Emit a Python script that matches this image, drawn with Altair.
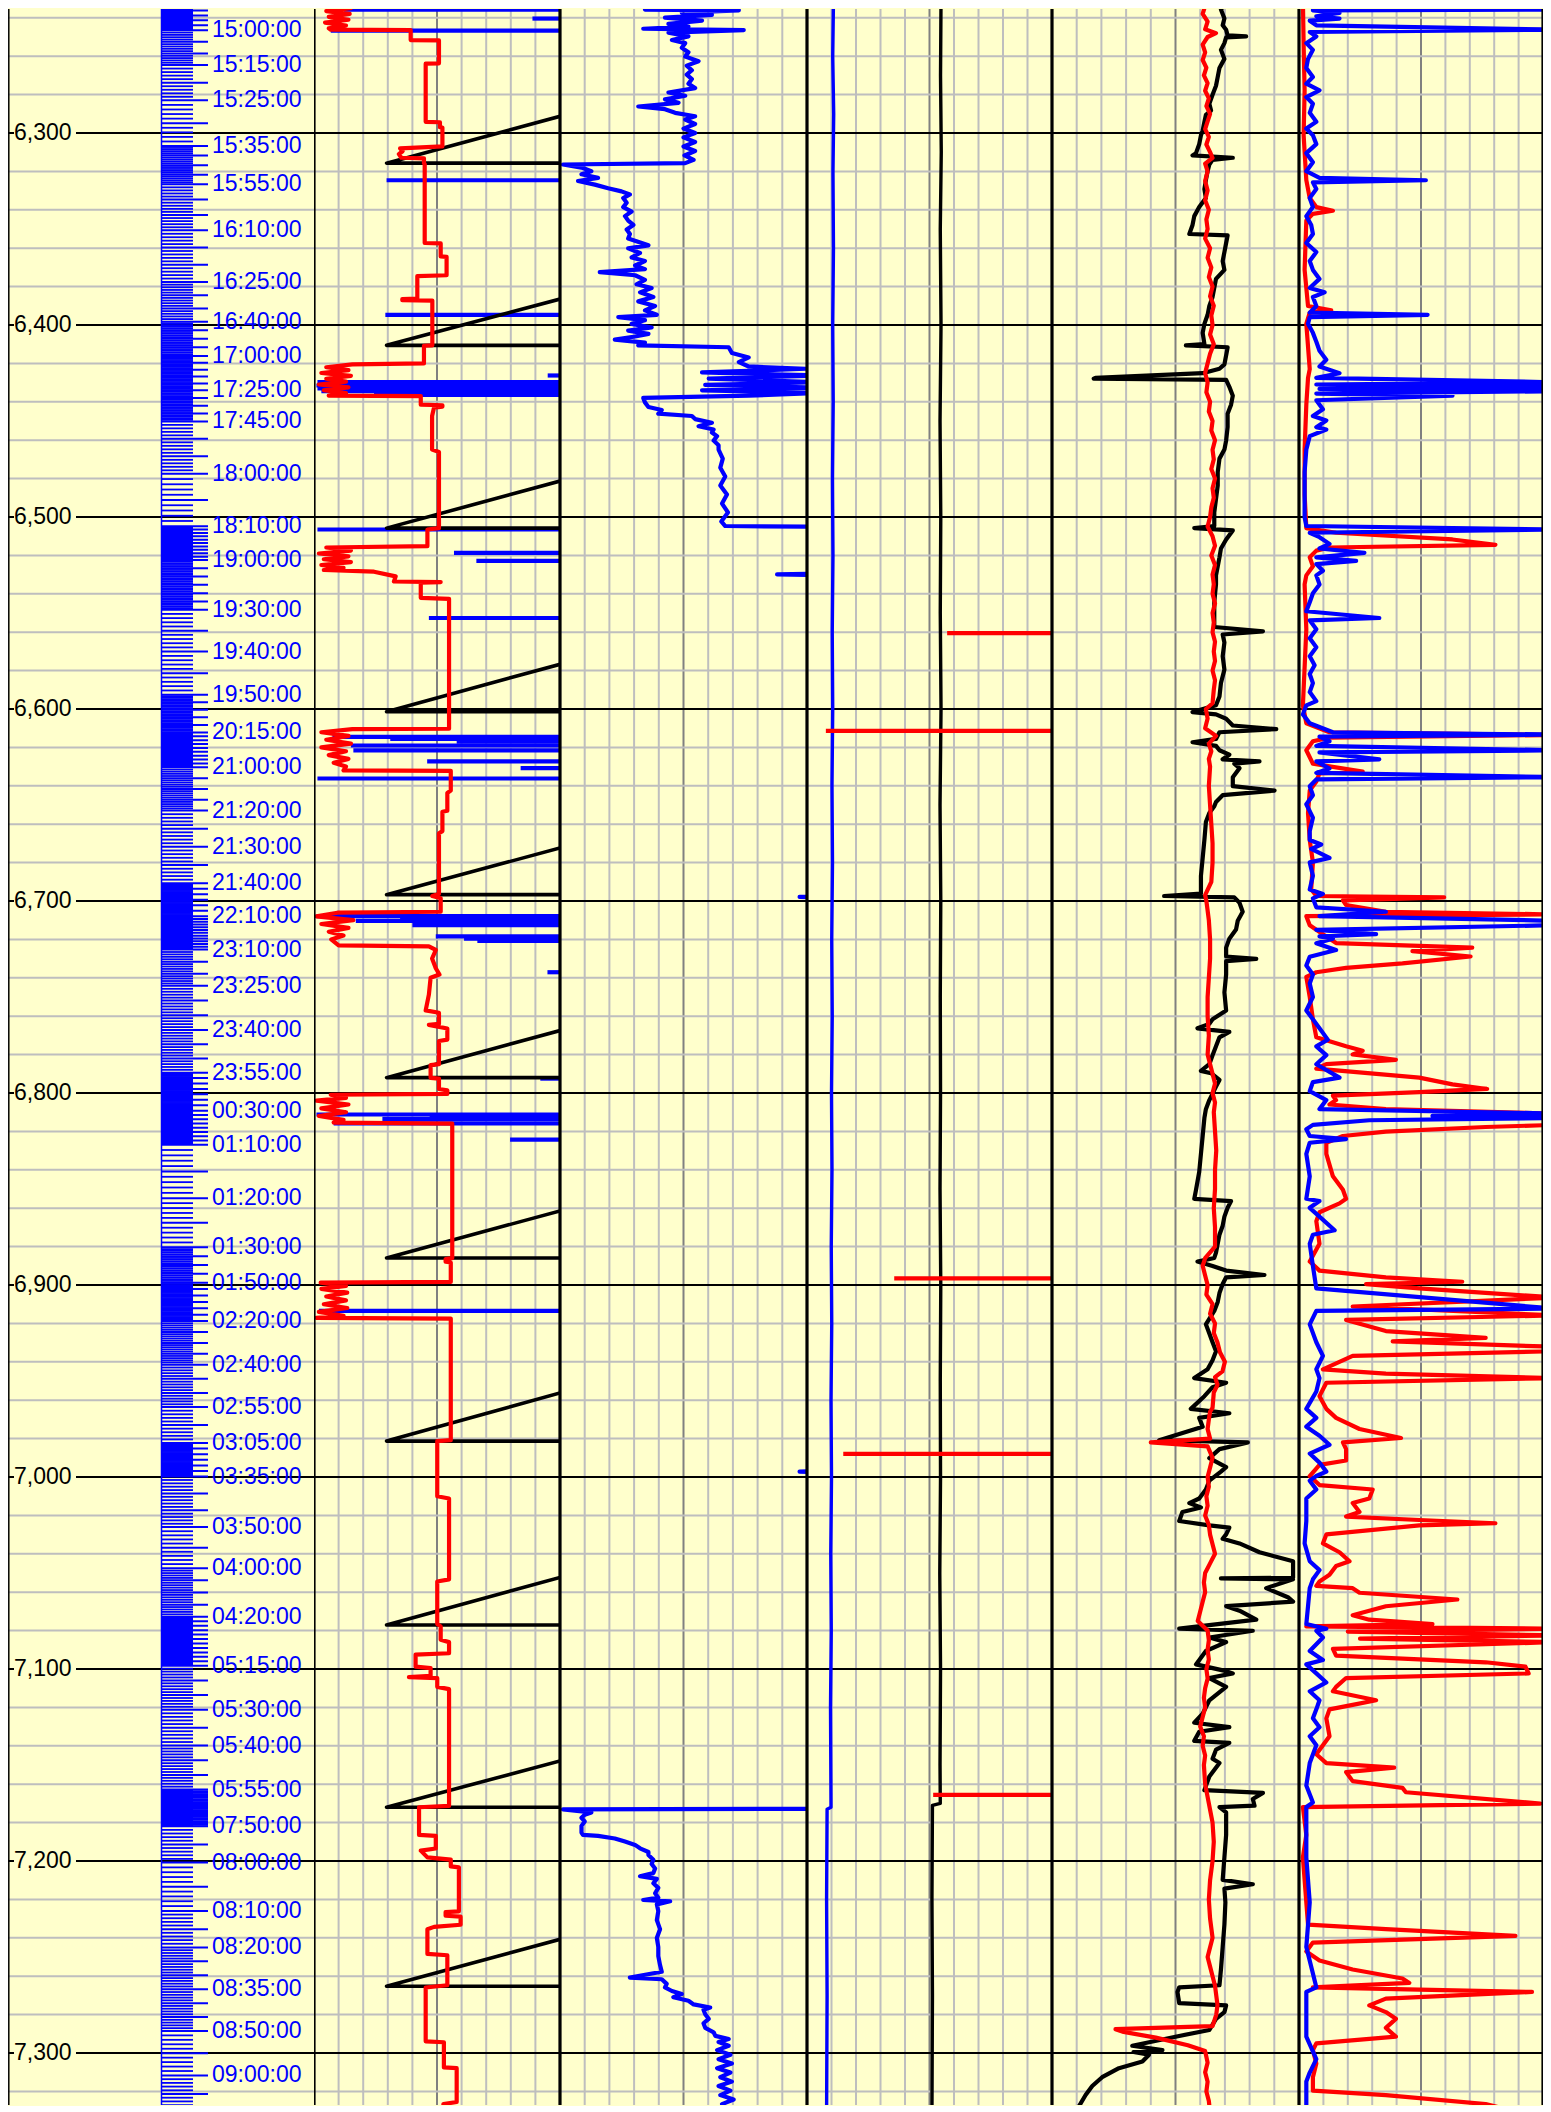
import math
import altair as alt
import pandas as pd

# ---------------- layout ----------------
D_TOP, D_BOT = 6235.42, 7327.08
PANEL_H = 2096
W_DEPTH = 306
W_TRACKS = [246, 247, 245, 247, 244]
YELLOW = "#FFFFCC"
GREY = "#BEBEBE"
DARKGREY = "#808080"
RED = "#FF0000"
BLUE = "#0000FF"
BLACK = "#000000"
FONT = "Liberation Sans, Arial, Helvetica, sans-serif"
LW = 4.2

# ---------------- depth / time index ----------------
DEPTH_LABELS = [6300, 6400, 6500, 6600, 6700, 6800, 6900, 7000, 7100, 7200, 7300]
GRID_MINOR = [d for d in range(6240, 7330, 20) if d % 100]

TIME_LABELS = ["15:00:00", "15:15:00", "15:25:00", "15:35:00", "15:55:00", "16:10:00", "16:25:00",
               "16:40:00", "17:00:00", "17:25:00", "17:45:00", "18:00:00", "18:10:00", "19:00:00",
               "19:30:00", "19:40:00", "19:50:00", "20:15:00", "21:00:00", "21:20:00", "21:30:00",
               "21:40:00", "22:10:00", "23:10:00", "23:25:00", "23:40:00", "23:55:00", "00:30:00",
               "01:10:00", "01:20:00", "01:30:00", "01:50:00", "02:20:00", "02:40:00", "02:55:00",
               "03:05:00", "03:35:00", "03:50:00", "04:00:00", "04:20:00", "05:15:00", "05:30:00",
               "05:40:00", "05:55:00", "07:50:00", "08:00:00", "08:10:00", "08:20:00", "08:35:00",
               "08:50:00", "09:00:00"]
TIME_DEPTHS = [6246.5, 6264.6, 6283.0, 6306.8, 6326.7, 6350.7, 6377.6,
               6398.3, 6416.1, 6434.0, 6450.2, 6477.5, 6504.8, 6522.4,
               6548.3, 6570.1, 6592.6, 6612.2, 6630.4, 6652.9, 6671.8,
               6690.8, 6707.9, 6725.3, 6744.2, 6767.2, 6789.4, 6809.2,
               6826.9, 6854.8, 6880.4, 6898.8, 6918.8, 6941.5, 6963.6,
               6982.3, 6999.8, 7026.1, 7047.5, 7072.8, 7098.3, 7121.2,
               7139.9, 7162.8, 7181.9, 7200.8, 7226.0, 7245.0, 7266.8,
               7288.5, 7311.7]
# unlabeled time/depth pairs at the top and bottom edges of the tick track
TIME_EDGE_TOP = ("14:30:00", 6231.0)
TIME_EDGE_BOTTOM = ("09:10:00", 7331.0)

# ---------------- track 1 ----------------
T1_RED = [(6231.0, 4.81), (6231.7, 4.81), (6232.0, 1.22), (6233.5, 0.41), (6235.0, 1.49), (6236.5, 0.5),
          (6238.0, 1.45), (6239.5, 0.6), (6241.0, 1.4), (6242.5, 0.45), (6244.0, 1.3), (6245.5, 0.6),
          (6246.2, 0.68), (6246.4, 3.93), (6251.6, 3.93), (6251.8, 5.08), (6263.7, 5.08), (6263.9, 4.54),
          (6294.2, 4.54), (6294.4, 5.12), (6297.0, 5.12), (6297.2, 5.22), (6307.0, 5.22), (6308.0, 3.50),
          (6309.5, 3.6), (6311.0, 3.45), (6312.9, 3.55), (6313.2, 4.47), (6315.7, 4.47), (6316.2, 4.5),
          (6357.3, 4.5), (6357.5, 5.15), (6364.3, 5.15), (6364.5, 5.39), (6374.1, 5.39), (6374.5, 4.2),
          (6386.3, 4.2), (6386.5, 3.59), (6387.1, 3.59), (6387.3, 4.81), (6410.6, 4.81), (6410.8, 4.47),
          (6420.0, 4.47), (6420.5, 1.56), (6422.0, 0.5), (6423.5, 1.4), (6425.0, 0.3), (6426.5, 1.5),
          (6428.0, 0.5), (6429.5, 1.3), (6431.0, 0.2), (6432.5, 1.4), (6434.0, 0.4), (6435.5, 1.3),
          (6436.8, 0.6), (6437.0, 4.34), (6441.5, 4.34), (6441.8, 5.22), (6442.5, 5.22), (6443.0, 4.88),
          (6447.4, 4.8), (6464.9, 4.8), (6466.1, 5.08), (6505.8, 5.08), (6506.5, 4.61), (6515.2, 4.61),
          (6515.9, 0.5), (6517.5, 1.5), (6519.0, 0.2), (6520.5, 1.4), (6522.0, 0.4), (6523.5, 1.5),
          (6525.0, 0.3), (6526.5, 1.2), (6527.6, 0.4), (6528.5, 2.44), (6530.9, 3.32), (6533.6, 3.25),
          (6533.9, 5.15), (6534.2, 4.34), (6542.1, 4.34), (6542.6, 5.49),
          (6610.3, 5.49), (6610.5, 1.56), (6612.1, 0.3), (6614.0, 1.4), (6616.0, 0.5), (6618.0, 1.5),
          (6620.0, 0.3), (6622.0, 1.3), (6624.0, 0.6), (6626.0, 1.4), (6628.0, 0.8), (6630.0, 1.3),
          (6632.0, 1.2), (6632.2, 5.56), (6642.5, 5.56), (6643.7, 5.42), (6653.0, 5.42), (6653.5, 5.22),
          (6663.6, 5.22), (6664.7, 5.08), (6696.3, 5.08), (6697.4, 4.81), (6698.6, 5.15), (6705.6, 5.15),
          (6706.1, 0.95), (6708.0, 0.1), (6710.0, 1.6), (6712.0, 0.3), (6714.0, 1.4), (6716.0, 0.6),
          (6718.0, 1.2), (6720.0, 0.7), (6723.1, 1.0), (6723.6, 4.67), (6725.5, 4.95), (6730.0, 4.8),
          (6735.0, 4.95), (6738.3, 5.1), (6740.0, 4.74), (6748.8, 4.67), (6757.0, 4.54), (6758.2, 5.08),
          (6764.0, 5.08), (6764.5, 4.67), (6766.4, 5.42), (6772.2, 5.42), (6772.9, 5.08), (6785.0, 5.08),
          (6785.5, 4.74), (6792.1, 4.74), (6792.5, 5.08), (6797.9, 5.08), (6798.6, 5.42), (6800.5, 5.42),
          (6800.9, 0.68), (6802.5, 1.3), (6804.0, 0.1), (6806.0, 1.4), (6808.0, 0.3), (6810.0, 1.3),
          (6812.0, 0.2), (6814.0, 1.2), (6815.4, 0.8), (6815.9, 5.62), (6886.0, 5.62), (6886.5, 5.35),
          (6887.9, 5.35), (6888.3, 5.56), (6898.4, 5.56), (6898.8, 0.27), (6900.5, 1.3), (6902.0, 0.3),
          (6904.0, 1.35), (6906.0, 0.5), (6908.0, 1.3), (6910.0, 0.4), (6912.0, 1.35), (6914.0, 0.2),
          (6916.0, 1.2), (6917.1, 0.1), (6917.5, 5.56),
          (6980.8, 5.56), (6981.3, 5.01), (7010.0, 5.01), (7011.2, 5.49), (7053.3, 5.49), (7054.4, 5.01),
          (7076.6, 5.01), (7077.8, 5.15), (7084.8, 5.15), (7086.0, 5.49), (7091.8, 5.49), (7092.5, 4.13),
          (7098.8, 4.13), (7099.5, 4.74), (7103.5, 4.74), (7104.2, 3.86), (7104.7, 5.01), (7109.3, 5.01),
          (7110.5, 5.49), (7171.3, 5.49), (7172.0, 4.27), (7186.4, 4.27), (7186.9, 4.95), (7193.5, 4.95),
          (7194.6, 4.34), (7198.1, 4.61), (7199.3, 5.56), (7202.8, 5.56), (7203.3, 5.89), (7226.2, 5.89),
          (7226.6, 5.35), (7228.5, 5.35), (7229.0, 5.96), (7233.2, 5.96), (7234.3, 4.88), (7235.5, 4.61),
          (7248.4, 4.61), (7249.1, 5.42), (7264.7, 5.42), (7265.9, 4.54), (7293.9, 4.54), (7294.4, 5.28),
          (7307.5, 5.28), (7307.9, 5.80), (7325.5, 5.80), (7326.6, 5.26), (7331.0, 5.26)]

T1_SAW_TOP = [6291.3, 6386.5, 6481.3, 6576.7, 6672.4, 6767.5, 6861.4, 6956.2, 7052.3, 7147.9, 7240.8]
T1_SAW_BOTTOM = [6315.7, 6410.6, 6505.8, 6601.4, 6696.7, 6792.0, 6885.9, 6981.3, 7077.1, 7172.0, 7265.2]
T1_SAW_LEFT = 2.95
T1_SAW_RIGHT = 10.0

T1_BLUE_SPIKES = [(6235.7, 1.22), (6240.4, 8.88), (6246.7, 0.68), (6324.6, 2.95), (6394.7, 2.90),
                  (6426.3, 9.5), (6429.8, 0.14), (6431.5, 0.1), (6433.0, 0.14), (6434.5, 0.3),
                  (6436.4, 2.44), (6506.5, 0.14), (6518.7, 5.69), (6522.9, 6.6), (6552.6, 4.67),
                  (6614.5, 0.75), (6615.6, 3.1), (6617.0, 5.8), (6619.0, 1.5), (6621.5, 1.6),
                  (6627.3, 4.6), (6630.8, 8.4), (6636.2, 0.14), (6707.9, 0.1), (6709.1, 3.5),
                  (6710.3, 1.7), (6712.6, 4.0), (6718.4, 4.95), (6719.6, 6.1), (6720.8, 6.64),
                  (6737.1, 9.49), (6792.5, 9.2), (6811.2, 0.1), (6812.4, 4.7), (6813.5, 2.78),
                  (6815.8, 0.8), (6824.3, 7.97), (6913.5, 0.2)]

# ---------------- track 2 ----------------
T2_BLUE_A = [(6231.0, 5.61), (6232.2, 6.29), (6233.3, 5.34), (6234.5, 6.02), (6235.7, 3.44), (6236.1, 7.24),
             (6237.3, 4.93), (6238.5, 6.15), (6239.9, 4.25), (6241.5, 5.75), (6243.2, 4.39), (6244.6, 5.20),
             (6245.7, 3.37), (6246.4, 7.44), (6247.8, 4.39), (6249.7, 5.20), (6251.6, 4.53), (6253.2, 5.07),
             (6255.6, 4.93), (6257.9, 5.20), (6260.2, 5.07), (6262.6, 5.61), (6264.9, 5.13), (6267.3, 5.34),
             (6269.6, 5.13), (6271.9, 5.34), (6274.3, 5.20), (6276.6, 5.47), (6278.9, 4.39), (6280.6, 5.07),
             (6282.5, 4.25), (6284.3, 4.80), (6286.2, 3.17), (6287.6, 4.25), (6289.5, 4.66), (6291.3, 5.47),
             (6293.0, 5.07), (6295.3, 5.47), (6297.7, 5.0), (6300.0, 5.47), (6302.3, 5.0), (6304.7, 5.47),
             (6307.0, 5.0), (6309.4, 5.47), (6311.7, 5.04), (6314.0, 5.41), (6315.7, 5.07), (6316.4, 0.12),
             (6318.0, 0.87), (6319.9, 1.27), (6321.5, 0.87), (6323.4, 1.54), (6325.0, 0.73), (6326.9, 1.41),
             (6328.8, 1.95), (6330.4, 2.49), (6332.0, 2.83), (6333.9, 2.56), (6336.3, 2.70), (6338.6, 2.56),
             (6340.9, 2.90), (6343.3, 2.63), (6345.6, 2.76), (6347.9, 2.97), (6350.3, 2.70), (6352.6, 2.83),
             (6355.0, 2.76), (6358.5, 3.58), (6360.1, 2.76), (6362.5, 3.24), (6364.8, 2.90), (6366.7, 3.44),
             (6369.0, 3.04), (6370.9, 3.44), (6372.5, 1.61), (6374.1, 3.04), (6376.5, 3.44), (6378.8, 3.10),
             (6380.7, 3.71), (6383.0, 3.24), (6385.4, 3.78), (6387.7, 3.17), (6390.1, 3.85), (6392.4, 3.44),
             (6394.7, 3.92), (6395.9, 2.36), (6397.5, 3.44), (6399.4, 2.90), (6401.3, 3.71), (6402.9, 2.76),
             (6404.6, 3.58), (6406.0, 3.04), (6407.6, 2.22), (6409.2, 3.44), (6410.6, 3.17), (6411.6, 6.83),
             (6414.6, 6.96), (6416.9, 7.64), (6419.3, 7.24), (6421.6, 7.64), (6422.8, 9.95), (6424.7, 5.75),
             (6426.3, 10.5), (6427.9, 6.02), (6429.8, 10.5), (6431.2, 5.88), (6432.6, 10.5), (6434.0, 5.75),
             (6435.4, 10.5), (6436.8, 7.64), (6438.0, 3.37), (6440.3, 3.44), (6442.7, 3.58), (6444.3, 4.12),
             (6446.2, 3.98), (6447.4, 5.34), (6449.0, 5.47), (6450.9, 6.15), (6452.7, 5.61), (6454.4, 6.22),
             (6456.0, 6.15), (6457.9, 6.36), (6460.2, 6.22), (6462.6, 6.42), (6464.9, 6.42), (6469.6, 6.59),
             (6474.3, 6.49), (6478.9, 6.69), (6483.6, 6.49), (6488.3, 6.76), (6493.0, 6.56), (6497.6, 6.80),
             (6502.3, 6.53), (6504.7, 6.69), (6505.1, 10.5)]
T2_BLUE_B = [(6529.5, 10.5), (6529.9, 8.79), (6530.3, 10.5)]
T2_BLUE_C = [(6697.6, 10.5), (6697.9, 9.7), (6698.2, 10.5)]
T2_BLUE_D = [(6996.9, 10.5), (6997.2, 9.7), (6997.5, 10.5)]
T2_BLUE_E = [(7172.8, 10.5), (7173.1, 0.12), (7174.7, 1.27), (7175.9, 1.0), (7177.5, 0.87), (7179.4, 1.0),
             (7181.7, 0.87), (7185.2, 0.87), (7186.4, 0.93), (7186.9, 1.54), (7188.3, 2.22), (7189.9, 2.63),
             (7191.6, 3.04), (7193.4, 3.24), (7195.3, 3.58), (7196.9, 3.58), (7199.3, 3.78), (7201.6, 3.71),
             (7203.9, 3.85), (7206.3, 3.78), (7207.9, 3.24), (7209.3, 3.92), (7211.6, 3.78), (7214.0, 3.98),
             (7216.8, 3.85), (7219.1, 3.98), (7220.3, 3.37), (7221.0, 4.46), (7222.6, 3.92), (7226.1, 3.98),
             (7230.8, 3.92), (7235.5, 4.05), (7240.1, 3.92), (7244.8, 3.98), (7249.5, 3.98), (7254.2, 4.05),
             (7257.7, 4.12), (7260.7, 2.83), (7261.6, 4.12), (7264.0, 4.32), (7265.8, 4.25), (7267.7, 4.53),
             (7269.3, 4.93), (7271.0, 4.59), (7272.8, 5.20), (7274.7, 5.41), (7276.3, 6.08), (7277.5, 5.81),
             (7279.8, 5.88), (7282.2, 6.02), (7284.5, 5.81), (7286.9, 5.88), (7289.2, 6.22), (7291.1, 6.29),
             (7292.7, 6.83), (7294.3, 6.42), (7296.2, 6.83), (7298.5, 6.36), (7300.9, 6.90), (7303.2, 6.42),
             (7305.5, 6.96), (7307.9, 6.36), (7310.2, 6.90), (7312.6, 6.49), (7314.9, 6.96), (7317.2, 6.42),
             (7319.6, 6.90), (7321.9, 6.49), (7324.2, 7.03), (7326.6, 6.56), (7330.8, 6.83)]

# ---------------- track 3 ----------------
T3_BLUE = [(6231, 1.08), (6260, 1.05), (6290, 1.09), (6320, 1.06), (6360, 1.08), (6400, 1.05), (6440, 1.07),
           (6480, 1.04), (6520, 1.06), (6560, 1.03), (6600, 1.05), (6640, 1.02), (6680, 1.04), (6720, 1.01),
           (6760, 1.03), (6800, 1.0), (6840, 1.02), (6880, 0.99), (6920, 1.01), (6960, 0.98), (7000, 1.0),
           (7040, 0.97), (7080, 0.99), (7120, 0.96), (7172, 0.98), (7173, 0.82), (7220, 0.80), (7270, 0.82),
           (7331, 0.80)]
T3_BLACK = [(6231, 5.47), (6270, 5.45), (6310, 5.48), (6350, 5.44), (6400, 5.47), (6450, 5.43), (6500, 5.46),
            (6550, 5.44), (6600, 5.47), (6650, 5.43), (6700, 5.46), (6750, 5.44), (6800, 5.45), (6850, 5.43),
            (6900, 5.46), (6950, 5.44), (7000, 5.45), (7050, 5.42), (7100, 5.45), (7150, 5.43), (7170, 5.44),
            (7171, 5.12), (7220, 5.10), (7270, 5.12), (7331, 5.10)]
T3_RED_SPIKES = [(6560.5, 5.72), (6611.4, 0.77), (6896.6, 3.56), (6988.0, 1.48), (7165.6, 5.15)]

# ---------------- track 4 ----------------
T4_BLACK = [(6231.0, 7.05), (6233.3, 6.98), (6235.7, 6.84), (6240.4, 6.98), (6243.9, 6.91), (6246.2, 7.05),
            (6249.2, 7.11), (6249.7, 7.86), (6250.2, 7.05), (6253.2, 6.98), (6256.7, 6.84), (6261.4, 6.98),
            (6266.1, 6.78), (6270.8, 6.71), (6275.4, 6.64), (6280.1, 6.50), (6284.8, 6.37), (6288.3, 6.44),
            (6290.6, 6.23), (6294.2, 6.17), (6298.8, 6.10), (6301.2, 6.03), (6305.8, 5.96), (6310.5, 5.83),
            (6311.7, 5.69), (6312.9, 7.32), (6314.0, 6.50), (6316.4, 6.37), (6319.9, 6.30), (6324.6, 6.23),
            (6329.2, 6.17), (6333.9, 6.23), (6338.6, 5.96), (6343.3, 5.76), (6347.9, 5.69), (6352.6, 5.56),
            (6353.3, 7.11), (6357.3, 7.05), (6362.0, 6.98), (6366.7, 6.91), (6371.3, 6.98), (6376.0, 6.64),
            (6380.7, 6.57), (6385.4, 6.50), (6390.1, 6.37), (6394.7, 6.30), (6399.4, 6.17), (6404.1, 6.10),
            (6409.9, 6.17), (6410.6, 5.42), (6411.6, 7.11), (6415.8, 7.05), (6420.5, 6.98), (6422.8, 6.78),
            (6425.1, 6.10), (6427.5, 1.76), (6427.9, 1.69), (6428.6, 7.05), (6432.2, 7.18), (6436.8, 7.32),
            (6441.5, 7.25), (6446.2, 7.11), (6453.2, 7.11), (6460.2, 7.05), (6464.9, 6.98), (6469.6, 6.78),
            (6476.6, 6.71), (6483.6, 6.71), (6490.6, 6.64), (6497.6, 6.57), (6504.7, 6.57), (6505.8, 5.76),
            (6507.0, 7.32), (6511.7, 7.05), (6516.4, 6.84), (6521.0, 6.78), (6525.7, 6.71), (6530.4, 6.64),
            (6535.1, 6.64), (6544.4, 6.57), (6553.8, 6.57), (6557.3, 6.57), (6559.6, 8.54), (6561.2, 6.91),
            (6565.4, 6.98), (6572.5, 6.91), (6579.5, 6.98), (6586.5, 6.84), (6593.5, 6.78), (6598.1, 6.64),
            (6601.6, 5.69), (6602.8, 6.64), (6605.1, 7.05), (6608.6, 7.32), (6610.5, 9.08), (6612.1, 6.78),
            (6615.6, 6.64), (6617.3, 5.69), (6619.2, 6.64), (6621.5, 6.78), (6623.8, 7.18), (6626.2, 6.91),
            (6627.3, 8.40), (6628.5, 7.38), (6630.8, 7.59), (6635.5, 7.32), (6640.2, 7.32), (6642.5, 9.01),
            (6644.9, 6.91), (6648.4, 6.64), (6650.7, 6.57), (6654.2, 6.37), (6658.9, 6.23), (6668.2, 6.17),
            (6677.6, 6.10), (6686.9, 6.03), (6696.2, 6.03), (6697.4, 4.54), (6698.1, 7.38), (6700.9, 7.59),
            (6705.6, 7.72), (6710.3, 7.52), (6714.9, 7.45), (6719.6, 7.18), (6724.3, 7.05), (6728.9, 7.05),
            (6730.1, 8.27), (6731.3, 7.05), (6738.3, 7.05), (6747.6, 6.98), (6757.0, 7.05), (6761.6, 6.50),
            (6764.0, 6.37), (6766.3, 5.89), (6768.2, 7.18), (6771.0, 6.78), (6775.7, 6.64), (6780.3, 6.50),
            (6785.0, 6.37), (6788.5, 6.03), (6789.7, 6.44), (6793.2, 6.78), (6796.7, 6.64), (6803.7, 6.37),
            (6808.4, 6.23), (6813.0, 6.17), (6822.4, 6.10), (6831.7, 6.03), (6841.1, 5.96), (6850.4, 5.83),
            (6855.1, 5.76), (6856.3, 7.25), (6859.8, 7.11), (6864.4, 6.98), (6869.1, 6.91), (6873.8, 6.78),
            (6878.5, 6.71), (6883.1, 6.64), (6885.9, 6.57), (6887.8, 5.89), (6890.1, 6.50), (6892.5, 7.05),
            (6894.8, 8.60), (6896.0, 7.05), (6899.5, 6.91), (6904.2, 6.78), (6908.8, 6.71), (6913.5, 6.57),
            (6920.5, 6.23), (6925.2, 6.37), (6929.8, 6.50), (6934.5, 6.64), (6939.2, 6.50), (6943.9, 6.30),
            (6948.5, 5.76), (6950.9, 7.05), (6953.2, 6.50), (6957.9, 6.17), (6964.5, 5.62), (6966.8, 7.18),
            (6969.2, 5.96), (6973.8, 6.10), (6980.8, 4.34), (6982.0, 7.93), (6985.5, 6.78), (6990.2, 6.37),
            (6994.9, 7.05), (6997.2, 6.84), (7001.9, 6.37), (7006.5, 6.23), (7011.2, 5.96), (7013.6, 5.56),
            (7015.9, 6.03), (7018.2, 5.28), (7022.9, 5.15), (7025.2, 6.37), (7026.4, 7.18), (7029.9, 7.05),
            (7032.2, 6.91), (7034.6, 7.59), (7039.2, 8.40), (7043.9, 9.76), (7052.5, 9.76), (7052.8, 6.84),
            (7053.3, 9.76), (7057.9, 8.67), (7062.6, 9.55), (7064.9, 9.76), (7067.3, 7.05), (7069.6, 7.59),
            (7074.3, 8.27), (7079.0, 5.15), (7080.1, 8.13), (7083.6, 6.37), (7086.0, 7.05), (7090.6, 6.23),
            (7097.6, 5.83), (7101.1, 7.05), (7102.3, 7.32), (7104.7, 6.37), (7109.3, 7.05), (7116.3, 6.37),
            (7123.3, 6.10), (7128.0, 5.76), (7130.3, 7.18), (7132.7, 5.96), (7137.4, 5.76), (7138.5, 7.18),
            (7142.0, 6.64), (7146.7, 6.50), (7149.0, 6.78), (7156.0, 6.37), (7163.1, 6.17), (7164.5, 8.54),
            (7167.7, 8.13), (7171.2, 8.20), (7171.9, 6.78), (7174.7, 7.05), (7186.4, 7.05), (7198.1, 6.98),
            (7209.8, 6.91), (7212.1, 8.13), (7214.4, 6.98), (7221.5, 7.02), (7233.1, 6.98), (7244.8, 6.91),
            (7256.5, 6.84), (7264.7, 6.78), (7265.8, 5.15), (7268.2, 5.08), (7274.0, 5.15), (7275.2, 7.05),
            (7278.7, 6.98), (7282.2, 6.64), (7288.0, 6.37), (7291.5, 5.0), (7296.2, 3.25), (7298.5, 4.47),
            (7299.5, 3.3), (7300.9, 3.93), (7304.4, 3.66), (7307.9, 2.71), (7312.6, 2.03), (7317.2, 1.63),
            (7321.9, 1.36), (7330.8, 0.95)]

T4_RED = [(6231, 6.03), (6235, 6.17), (6238, 6.1), (6242, 6.3), (6246, 6.2), (6248, 6.64), (6250, 6.3),
          (6254, 6.1), (6258, 6.2), (6262, 6.1), (6266, 6.25), (6270, 6.15), (6274, 6.3), (6278, 6.2),
          (6282, 6.35), (6286, 6.25), (6290, 6.4), (6294, 6.3), (6298, 6.2), (6302, 6.35), (6306, 6.25),
          (6310, 6.4), (6313, 6.5), (6316, 6.2), (6320, 6.3), (6325, 6.2), (6330, 6.3), (6335, 6.2),
          (6340, 6.35), (6345, 6.25), (6350, 6.3), (6355, 6.2), (6360, 6.4), (6365, 6.3), (6370, 6.45),
          (6375, 6.35), (6380, 6.5), (6385, 6.4), (6390, 6.55), (6395, 6.45), (6400, 6.5), (6405, 6.4),
          (6410, 6.55), (6415, 6.4), (6420, 6.3), (6425, 6.2), (6430, 6.3), (6435, 6.25), (6440, 6.4),
          (6445, 6.35), (6450, 6.5), (6455, 6.45), (6460, 6.6), (6465, 6.5), (6470, 6.55), (6475, 6.45),
          (6480, 6.6), (6485, 6.5), (6490, 6.55), (6495, 6.45), (6500, 6.4), (6505, 6.3), (6510, 6.5),
          (6515, 6.6), (6520, 6.45), (6525, 6.6), (6530, 6.5), (6535, 6.55), (6540, 6.5), (6545, 6.6),
          (6550, 6.5), (6555, 6.55), (6560, 6.5), (6565, 6.6), (6570, 6.55), (6575, 6.6), (6580, 6.5),
          (6585, 6.6), (6590, 6.55), (6597, 6.5), (6600, 6.23), (6605, 6.3), (6610, 6.2), (6614, 6.64),
          (6618, 6.35), (6622, 6.45), (6626, 6.35), (6630, 6.4), (6640, 6.35), (6650, 6.4), (6660, 6.45),
          (6670, 6.5), (6680, 6.5), (6690, 6.45), (6697, 6.2), (6700, 6.25), (6705, 6.3), (6710, 6.35),
          (6720, 6.4), (6730, 6.4), (6740, 6.35), (6750, 6.3), (6760, 6.3), (6770, 6.35), (6780, 6.3),
          (6790, 6.5), (6795, 6.6), (6800, 6.5), (6805, 6.6), (6810, 6.55), (6820, 6.6), (6830, 6.65),
          (6840, 6.6), (6850, 6.6), (6860, 6.55), (6870, 6.6), (6880, 6.6), (6886, 6.2), (6890, 6.1),
          (6895, 6.2), (6900, 6.3), (6905, 6.25), (6910, 6.5), (6915, 6.4), (6920, 6.6), (6925, 6.55),
          (6930, 6.7), (6935, 6.8), (6940, 7.0), (6945, 6.9), (6948, 6.6), (6952, 6.7), (6956, 6.55),
          (6964, 6.5), (6966, 6.4), (6970, 6.35), (6975, 6.3), (6980, 6.4), (6982, 4.0), (6984, 6.3),
          (6990, 6.5), (6995, 6.4), (7000, 6.3), (7005, 6.35), (7010, 6.25), (7015, 6.3), (7020, 6.2),
          (7025, 6.35), (7030, 6.4), (7035, 6.5), (7040, 6.6), (7045, 6.4), (7050, 6.2), (7055, 6.15),
          (7060, 6.2), (7065, 6.1), (7070, 6.0), (7075, 5.9), (7080, 6.3), (7085, 6.35), (7090, 6.3),
          (7095, 6.35), (7100, 6.25), (7105, 6.3), (7110, 6.2), (7115, 6.15), (7120, 6.2), (7125, 6.1),
          (7130, 6.0), (7135, 6.15), (7140, 6.1), (7145, 6.2), (7150, 6.15), (7160, 6.2), (7170, 6.35),
          (7180, 6.5), (7190, 6.55), (7200, 6.5), (7210, 6.4), (7220, 6.35), (7230, 6.4), (7240, 6.5),
          (7250, 6.3), (7255, 6.4), (7260, 6.5), (7265, 6.6), (7270, 6.65), (7275, 6.7), (7280, 6.65),
          (7286, 6.5), (7287.6, 2.57), (7289, 2.9), (7292, 4.2), (7296, 5.5), (7299, 6.2), (7305, 6.3),
          (7310, 6.2), (7315, 6.3), (7320, 6.25), (7325, 6.35), (7331, 6.4)]

# ---------------- track 5 ----------------
T5_BLUE = [(6231.0, 0.16), (6232.2, 0.84), (6233.3, 1.66), (6234.5, 0.71), (6235.7, 10.5), (6236.1, 0.57),
           (6237.5, 1.66), (6239.2, 0.71), (6240.4, 1.66), (6241.5, 0.44), (6243.9, 0.71), (6246.2, 10.5),
           (6247.4, 0.44), (6249.7, 0.71), (6253.2, 0.30), (6256.7, 0.57), (6261.4, 0.37), (6266.1, 0.30),
           (6270.8, 0.57), (6274.3, 0.30), (6277.8, 0.84), (6281.3, 0.30), (6284.8, 0.57), (6289.5, 0.44),
           (6294.2, 0.71), (6297.7, 0.30), (6301.2, 0.57), (6305.8, 0.71), (6310.5, 0.30), (6315.2, 0.57),
           (6319.9, 0.30), (6323.4, 0.84), (6324.6, 5.20), (6325.7, 0.57), (6329.2, 0.71), (6333.9, 0.44),
           (6338.6, 0.57), (6343.3, 0.30), (6347.9, 0.50), (6352.6, 0.57), (6357.3, 0.30), (6362.0, 0.71),
           (6366.7, 0.44), (6371.3, 0.57), (6376.0, 0.84), (6380.7, 0.44), (6383.0, 1.05), (6385.4, 0.57),
           (6390.1, 0.71), (6393.6, 0.44), (6394.7, 5.27), (6395.9, 0.44), (6399.4, 0.37), (6404.1, 0.57),
           (6408.7, 0.71), (6413.4, 0.84), (6418.1, 1.12), (6421.6, 0.84), (6425.1, 1.66), (6427.5, 0.71),
           (6429.8, 10.5), (6431.0, 0.71), (6432.2, 10.5), (6433.3, 0.84), (6434.5, 10.5), (6435.7, 0.71),
           (6436.8, 6.29), (6439.2, 0.71), (6443.9, 0.98), (6447.4, 0.57), (6449.7, 1.12), (6453.2, 0.71),
           (6454.4, 1.12), (6457.9, 0.44), (6464.9, 0.30), (6476.6, 0.23), (6488.3, 0.23), (6500.0, 0.23),
           (6504.7, 0.30), (6506.5, 10.5), (6508.2, 0.44), (6510.5, 0.84), (6514.0, 1.25), (6516.4, 0.84),
           (6518.7, 2.68), (6521.0, 0.71), (6522.9, 2.34), (6524.5, 0.71), (6528.0, 0.98), (6530.4, 0.71),
           (6535.1, 0.84), (6539.7, 0.57), (6544.4, 0.44), (6549.1, 0.30), (6552.6, 3.29), (6553.8, 0.44),
           (6558.5, 0.71), (6563.1, 0.44), (6567.8, 0.71), (6572.5, 0.44), (6577.2, 0.64), (6581.8, 0.44),
           (6586.5, 0.57), (6591.2, 0.44), (6595.9, 0.71), (6598.1, 0.30), (6602.8, 0.16), (6607.4, 0.44),
           (6612.1, 1.39), (6613.3, 10.5), (6614.4, 0.84), (6616.8, 1.25), (6619.2, 0.71), (6621.5, 10.5),
           (6622.6, 0.84), (6626.2, 3.29), (6627.3, 0.71), (6631.0, 1.25), (6633.3, 0.71), (6635.5, 10.5),
           (6636.7, 0.71), (6640.2, 0.44), (6644.9, 0.57), (6649.6, 0.30), (6656.6, 0.57), (6663.6, 0.44),
           (6668.2, 0.44), (6670.6, 0.91), (6672.9, 0.50), (6677.6, 1.25), (6679.9, 0.44), (6686.9, 0.57),
           (6694.0, 0.44), (6696.3, 0.98), (6698.6, 0.57), (6703.3, 0.71), (6705.6, 3.56), (6707.9, 0.84),
           (6710.3, 10.5), (6712.6, 10.5), (6715.0, 0.71), (6717.3, 3.16), (6718.4, 0.84), (6719.6, 1.39),
           (6722.0, 0.71), (6725.5, 1.52), (6729.0, 0.44), (6733.6, 0.30), (6738.3, 0.57), (6743.0, 0.44),
           (6750.0, 0.57), (6757.0, 0.30), (6761.6, 0.57), (6766.3, 0.84), (6772.2, 1.18), (6775.7, 0.71),
           (6780.3, 1.12), (6785.0, 0.71), (6792.0, 1.66), (6794.3, 0.57), (6799.0, 0.44), (6803.7, 1.12),
           (6808.4, 0.84), (6810.7, 10.5), (6811.9, 5.47), (6813.0, 10.5), (6814.2, 2.88), (6816.6, 0.57),
           (6818.9, 0.30), (6822.4, 0.44), (6824.0, 1.93), (6825.9, 0.44), (6831.7, 0.30), (6843.4, 0.44),
           (6855.1, 0.30), (6856.3, 0.84), (6859.8, 0.44), (6871.5, 1.46), (6873.8, 0.57), (6878.5, 0.44),
           (6890.1, 0.57), (6901.8, 0.71), (6912.3, 10.5), (6913.5, 0.71), (6920.5, 0.44), (6929.8, 0.71),
           (6936.9, 0.98), (6943.9, 0.71), (6948.5, 0.84), (6955.5, 0.71), (6964.5, 0.30), (6969.2, 0.71),
           (6973.8, 0.30), (6978.5, 0.84), (6983.2, 1.25), (6987.8, 0.44), (6992.5, 0.84), (6997.2, 1.12),
           (6999.5, 0.71), (7001.9, 0.44), (7006.5, 0.71), (7011.2, 0.30), (7022.9, 0.30), (7034.6, 0.23),
           (7043.9, 0.44), (7048.5, 0.84), (7053.3, 0.57), (7057.9, 0.44), (7067.3, 0.37), (7076.6, 0.30),
           (7079.0, 1.12), (7080.1, 0.71), (7083.6, 0.98), (7090.6, 0.44), (7095.3, 0.98), (7097.6, 0.30),
           (7102.3, 0.71), (7107.0, 1.12), (7111.6, 0.44), (7116.3, 0.84), (7121.0, 0.71), (7125.6, 0.57),
           (7130.3, 0.84), (7135.0, 0.44), (7139.7, 0.71), (7149.0, 0.44), (7160.7, 0.30), (7169.5, 0.57),
           (7171.9, 0.30), (7186.4, 0.30), (7198.1, 0.30), (7221.5, 0.44), (7244.8, 0.30), (7265.8, 0.71),
           (7268.2, 0.30), (7291.5, 0.30), (7303.2, 0.71), (7310.2, 0.44), (7314.9, 0.30), (7330.8, 0.30)]

T5_RED = [(6231.0, 0.16), (6254.4, 0.19), (6277.8, 0.23), (6301.2, 0.19), (6324.6, 0.30), (6333.9, 0.44),
          (6338.6, 0.71), (6340.5, 1.39), (6342.1, 0.57), (6345.6, 0.30), (6371.3, 0.23), (6390.1, 0.37),
          (6392.4, 1.32), (6393.6, 0.44), (6399.4, 0.30), (6423.0, 0.44), (6427.5, 0.37), (6441.5, 0.30),
          (6464.9, 0.23), (6488.3, 0.23), (6505.8, 0.30), (6508.2, 1.52), (6511.7, 6.29), (6514.5, 8.05),
          (6515.9, 1.25), (6517.5, 0.71), (6521.0, 0.44), (6525.7, 0.57), (6530.4, 0.30), (6535.1, 0.23),
          (6558.5, 0.30), (6598.1, 0.16), (6607.4, 0.30), (6612.1, 1.25), (6613.5, 10.5), (6614.9, 1.25),
          (6616.8, 0.57), (6621.5, 0.30), (6628.5, 0.57), (6632.6, 2.61), (6633.5, 0.84), (6637.8, 0.71),
          (6642.5, 0.44), (6654.2, 0.37), (6668.2, 0.44), (6679.9, 0.57), (6693.9, 0.50), (6697.4, 0.71),
          (6698.1, 5.95), (6699.7, 1.80), (6702.1, 1.93), (6705.6, 3.56), (6707.0, 10.5), (6707.9, 0.30),
          (6712.6, 0.44), (6717.3, 0.98), (6721.9, 1.52), (6724.3, 7.10), (6726.1, 4.65), (6728.9, 7.03),
          (6732.5, 4.24), (6734.8, 1.93), (6737.1, 0.71), (6739.5, 0.30), (6750.0, 0.44), (6761.6, 0.57),
          (6771.0, 0.71), (6775.7, 1.93), (6778.0, 2.61), (6779.9, 2.20), (6782.7, 3.97), (6785.0, 1.12),
          (6787.3, 0.71), (6792.0, 4.93), (6795.5, 6.29), (6797.9, 7.71), (6799.5, 4.93), (6801.4, 1.39),
          (6803.7, 1.52), (6806.0, 1.25), (6808.4, 3.56), (6810.7, 10.5), (6813.0, 10.5), (6816.6, 10.5),
          (6817.7, 7.65), (6820.1, 3.56), (6822.4, 1.80), (6825.9, 1.12), (6831.7, 1.12), (6843.4, 1.39),
          (6850.4, 1.80), (6855.1, 1.93), (6857.5, 1.66), (6862.1, 0.84), (6866.8, 0.71), (6878.5, 0.84),
          (6887.8, 0.44), (6892.5, 0.84), (6896.0, 3.56), (6898.3, 6.69), (6899.5, 2.75), (6901.8, 4.93),
          (6906.5, 10.5), (6911.2, 2.20), (6915.8, 10.5), (6918.2, 1.93), (6924.0, 3.56), (6927.5, 7.65),
          (6929.4, 3.84), (6932.2, 10.5), (6934.5, 10.5), (6936.9, 2.20), (6943.9, 0.98), (6946.2, 3.56),
          (6948.5, 10.5), (6950.9, 1.12), (6957.9, 0.84), (6964.5, 1.12), (6969.2, 1.52), (6975.0, 2.48),
          (6979.7, 4.18), (6982.0, 1.80), (6985.5, 1.93), (6991.4, 1.93), (6993.7, 0.84), (6999.5, 0.44),
          (7004.2, 0.84), (7006.5, 3.02), (7011.2, 2.88), (7013.5, 2.20), (7018.2, 2.48), (7020.6, 1.93),
          (7022.4, 4.93), (7024.1, 8.05), (7025.2, 4.93), (7029.9, 1.12), (7034.6, 0.98), (7039.2, 1.66),
          (7043.9, 2.07), (7046.3, 1.52), (7050.9, 1.25), (7054.4, 0.84), (7056.7, 0.71), (7057.9, 2.20),
          (7060.3, 2.48), (7063.8, 6.49), (7067.3, 3.56), (7072.0, 2.20), (7074.3, 2.88), (7076.6, 5.47),
          (7077.8, 0.30), (7079.0, 10.5), (7080.5, 2.0), (7082.5, 10.5), (7084.2, 2.5), (7086.0, 10.5),
          (7089.5, 1.39), (7093.0, 1.52), (7096.5, 7.65), (7098.8, 9.28), (7102.3, 9.41), (7104.7, 1.93),
          (7109.3, 1.52), (7111.6, 1.39), (7116.3, 3.16), (7118.7, 2.20), (7121.0, 1.25), (7125.7, 1.12),
          (7135.0, 1.25), (7144.4, 0.71), (7149.0, 1.12), (7151.4, 3.90), (7153.7, 1.93), (7158.4, 2.20),
          (7161.9, 4.24), (7164.2, 4.38), (7170.1, 9.89), (7171.9, 0.16), (7186.4, 0.30), (7198.1, 0.16),
          (7209.8, 0.23), (7221.5, 0.30), (7233.1, 0.37), (7235.5, 3.56), (7239.0, 8.87), (7242.5, 0.57),
          (7247.1, 0.30), (7251.8, 0.84), (7256.5, 2.20), (7261.2, 4.24), (7263.5, 4.52), (7265.8, 0.57),
          (7268.2, 9.55), (7271.7, 3.56), (7275.2, 2.88), (7278.7, 3.56), (7282.2, 3.97), (7286.9, 3.56),
          (7291.5, 3.97), (7295.0, 0.71), (7298.5, 0.57), (7305.5, 0.71), (7312.6, 0.57), (7319.6, 0.57),
          (7321.9, 3.56), (7326.6, 7.65), (7330.8, 9.0)]

# ---------------- helpers ----------------
YS = alt.Scale(domain=[D_TOP, D_BOT], reverse=True, nice=False, zero=False)
XS = alt.Scale(domain=[0, 10], nice=False, zero=False)


def Y(field="depth"):
    return alt.Y(f"{field}:Q", scale=YS, axis=None)


def X(field="v"):
    return alt.X(f"{field}:Q", scale=XS, axis=None)


ONE = pd.DataFrame({"k": [0]})


def curve(segs, color, width=LW):
    rows = []
    for s, seg in enumerate(segs):
        for i, (d, v) in enumerate(seg):
            rows.append({"seg": s, "i": i, "depth": d, "v": v})
    return alt.Chart(pd.DataFrame(rows)).mark_line(
        color=color, strokeWidth=width, clip=True, strokeJoin="round"
    ).encode(x=X(), y=Y(), order="i:Q", detail="seg:N")


def spikes(pairs, color, width=LW):
    df = pd.DataFrame(pairs, columns=["depth", "v"])
    df["v2"] = 10.0
    return alt.Chart(df).mark_rule(color=color, strokeWidth=width, clip=True).encode(
        x=X(), x2="v2:Q", y=Y())


def grid_layers(width):
    vg = alt.Chart(pd.DataFrame({"v": [1, 2, 3, 4, 6, 7, 8, 9]})).mark_rule(
        color=GREY, strokeWidth=2).encode(x=X(), y=alt.value(0), y2=alt.value(PANEL_H))
    mid = alt.Chart(pd.DataFrame({"v": [5]})).mark_rule(
        color=DARKGREY, strokeWidth=2).encode(x=X(), y=alt.value(0), y2=alt.value(PANEL_H))
    hg = alt.Chart(pd.DataFrame({"depth": GRID_MINOR})).mark_rule(
        color=GREY, strokeWidth=2, clip=True).encode(y=Y(), x=alt.value(0), x2=alt.value(width))
    hb = alt.Chart(pd.DataFrame({"depth": DEPTH_LABELS})).mark_rule(
        color=BLACK, strokeWidth=2, clip=True).encode(y=Y(), x=alt.value(0), x2=alt.value(width))
    return [vg, mid, hg, hb]


def borders():
    return alt.Chart(pd.DataFrame({"v": [0, 10]})).mark_rule(
        color=BLACK, strokeWidth=3.2, clip=True).encode(x=X(), y=alt.value(0), y2=alt.value(PANEL_H))


def track(width, layers):
    return alt.layer(*(grid_layers(width) + layers + [borders()])).properties(
        width=width, height=PANEL_H)


# ---------------- depth / time panel ----------------
def to_min(s):
    h, m, sec = (int(p) for p in s.split(":"))
    return h * 60 + m + sec / 60.0


pairs = [TIME_EDGE_TOP] + list(zip(TIME_LABELS, TIME_DEPTHS)) + [TIME_EDGE_BOTTOM]
mins, offset, prev = [], 0.0, None
for t, _ in pairs:
    v = to_min(t) + offset
    if prev is not None and v < prev:
        offset += 1440.0
        v += 1440.0
    mins.append(v)
    prev = v
tick_rows = []
for k in range(len(pairs) - 1):
    t0, t1 = mins[k], mins[k + 1]
    d0, d1 = pairs[k][1], pairs[k + 1][1]
    m = math.ceil(t0)
    while m < t1:
        tick_rows.append({"depth": d0 + (m - t0) / (t1 - t0) * (d1 - d0), "long": (m % 5 == 0)})
        m += 1
ticks = pd.DataFrame(tick_rows)

d_minor = alt.Chart(pd.DataFrame({"depth": GRID_MINOR})).mark_rule(
    color=GREY, strokeWidth=2, clip=True).encode(y=Y(), x=alt.value(0), x2=alt.value(W_DEPTH))
d_major = alt.Chart(pd.DataFrame({"depth": DEPTH_LABELS})).mark_rule(
    color=BLACK, strokeWidth=2, clip=True).encode(y=Y(), x=alt.value(68), x2=alt.value(W_DEPTH))
d_stub = alt.Chart(pd.DataFrame({"depth": DEPTH_LABELS})).mark_rule(
    color=BLACK, strokeWidth=2, clip=True).encode(y=Y(), x=alt.value(0), x2=alt.value(6))
d_left = alt.Chart(ONE).mark_rule(color=BLACK, strokeWidth=1.5).encode(
    x=alt.value(0.8), y=alt.value(0), y2=alt.value(PANEL_H))
d_vline = alt.Chart(ONE).mark_rule(color=BLUE, strokeWidth=1.5).encode(
    x=alt.value(153.5), y=alt.value(0), y2=alt.value(PANEL_H))
d_short = alt.Chart(ticks[~ticks["long"]]).mark_rule(color=BLUE, strokeWidth=1.8, clip=True).encode(
    y=Y(), x=alt.value(153), x2=alt.value(185))
d_long = alt.Chart(ticks[ticks["long"]]).mark_rule(color=BLUE, strokeWidth=2.0, clip=True).encode(
    y=Y(), x=alt.value(153), x2=alt.value(200))
d_time = alt.Chart(pd.DataFrame({"label": TIME_LABELS, "depth": TIME_DEPTHS})).mark_text(
    align="left", baseline="middle", font=FONT, fontSize=23, color=BLUE, clip=True).encode(
    x=alt.value(204), y=Y(), text="label:N")
d_lab = alt.Chart(pd.DataFrame({"depth": DEPTH_LABELS})).mark_text(
    align="left", baseline="middle", font=FONT, fontSize=23, color=BLACK).encode(
    x=alt.value(6), y=Y(), text=alt.Text("depth:Q", format=","))

depth_panel = alt.layer(d_minor, d_major, d_stub, d_left, d_short, d_long, d_vline, d_time, d_lab).properties(
    width=W_DEPTH, height=PANEL_H)

# ---------------- tracks ----------------
saw = [[(top, T1_SAW_RIGHT), (bot, T1_SAW_LEFT), (bot, T1_SAW_RIGHT)]
       for top, bot in zip(T1_SAW_TOP, T1_SAW_BOTTOM)]

t1 = track(W_TRACKS[0], [spikes(T1_BLUE_SPIKES, BLUE), curve(saw, BLACK, 3.6), curve([T1_RED], RED)])
t2 = track(W_TRACKS[1], [curve([T2_BLUE_A, T2_BLUE_B, T2_BLUE_C, T2_BLUE_D, T2_BLUE_E], BLUE)])
t3 = track(W_TRACKS[2], [curve([T3_BLUE], BLUE, 3.4), curve([T3_BLACK], BLACK, 3.4),
                         spikes(T3_RED_SPIKES, RED)])
t4 = track(W_TRACKS[3], [curve([T4_BLACK], BLACK), curve([T4_RED], RED)])
t5 = track(W_TRACKS[4], [curve([T5_RED], RED), curve([T5_BLUE], BLUE)])

chart = alt.hconcat(depth_panel, t1, t2, t3, t4, t5, spacing=0, bounds="flush").properties(
    padding=0, background=YELLOW
).configure_view(stroke=None).configure_concat(spacing=0)

chart.save("out.html", embed_options={"renderer": "svg", "actions": False})
